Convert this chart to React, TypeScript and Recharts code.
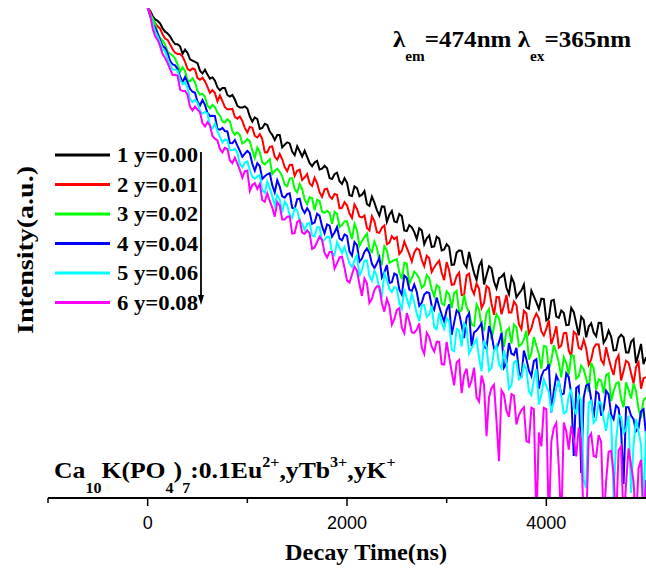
import { LineChart, Line, XAxis, YAxis, Legend } from 'recharts';

// decay time channels (ns), one row per 500 ns
const times = [
  0, 25, 50, 75, 100, 125, 150, 175, 200, 225, 250, 275, 300, 325, 350, 375, 400, 425, 450, 475,
  500, 525, 550, 575, 600, 625, 650, 675, 700, 725, 750, 775, 800, 825, 850, 875, 900, 925, 950, 975,
  1000, 1025, 1050, 1075, 1100, 1125, 1150, 1175, 1200, 1225, 1250, 1275, 1300, 1325, 1350, 1375, 1400, 1425, 1450, 1475,
  1500, 1525, 1550, 1575, 1600, 1625, 1650, 1675, 1700, 1725, 1750, 1775, 1800, 1825, 1850, 1875, 1900, 1925, 1950, 1975,
  2000, 2025, 2050, 2075, 2100, 2125, 2150, 2175, 2200, 2225, 2250, 2275, 2300, 2325, 2350, 2375, 2400, 2425, 2450, 2475,
  2500, 2525, 2550, 2575, 2600, 2625, 2650, 2675, 2700, 2725, 2750, 2775, 2800, 2825, 2850, 2875, 2900, 2925, 2950, 2975,
  3000, 3025, 3050, 3075, 3100, 3125, 3150, 3175, 3200, 3225, 3250, 3275, 3300, 3325, 3350, 3375, 3400, 3425, 3450, 3475,
  3500, 3525, 3550, 3575, 3600, 3625, 3650, 3675, 3700, 3725, 3750, 3775, 3800, 3825, 3850, 3875, 3900, 3925, 3950, 3975,
  4000, 4025, 4050, 4075, 4100, 4125, 4150, 4175, 4200, 4225, 4250, 4275, 4300, 4325, 4350, 4375, 4400, 4425, 4450, 4475,
  4500, 4525, 4550, 4575, 4600, 4625, 4650, 4675, 4700, 4725, 4750, 4775, 4800, 4825, 4850, 4875, 4900, 4925, 4950, 4975,
  5000,
];

// intensity (counts) for y = 0.00
const y000 = [
  10000, 9500, 8610, 8060, 7850, 7480, 6810, 6410, 6190, 5860, 5400, 5080, 5060, 4870, 4220, 4580, 4300, 3810, 3720, 3630,
  3550, 3070, 2920, 3130, 2860, 2650, 2720, 2550, 2250, 2130, 2220, 2220, 1950, 1890, 1950, 1790, 1590, 1540, 1540, 1570,
  1510, 1300, 1180, 1280, 1240, 1030, 1050, 1135, 1110, 981, 921, 836, 917, 917, 727, 766, 800, 784, 672, 629,
  743, 677, 613, 684, 610, 541, 511, 549, 565, 481, 488, 515, 492, 409, 402, 440, 452, 386, 366, 408,
  375, 296, 292, 350, 339, 291, 299, 320, 251, 243, 289, 258, 224, 202, 240, 239, 180, 205, 220, 181,
  178, 208, 200, 153, 151, 169, 162, 148, 130, 159, 153, 118, 132, 139, 112, 113, 136, 131, 105, 107,
  118, 112, 80, 80.3, 101, 105, 104, 82.2, 76.5, 102, 83, 68.6, 60, 78.3, 86, 55.4, 66, 77.9, 75, 58.4,
  51.5, 62.3, 64, 67.6, 52, 46.1, 63.5, 57.2, 43.4, 46.6, 49.6, 55.3, 36, 35.1, 49.3, 44.2, 39.5, 35.0, 42.4, 42.1,
  28.2, 29.2, 40.8, 41.4, 30.3, 29.6, 33.9, 32.5, 25.8, 25.9, 35.6, 32.9, 26.7, 21.3, 30.2, 28.4, 20.5, 25.0, 26.7, 22.4,
  20.9, 26.9, 26.8, 18.5, 20.0, 23.2, 20.8, 16.0, 16.1, 20.3, 21.5, 20.5, 15.4, 15.4, 18.8, 19.8, 12.6, 15.0, 18.1, 12.4,
  14.1,
];

// y = 0.01
const y001 = [
  10000, 9270, 8120, 7480, 7100, 6780, 6080, 5630, 5480, 5040, 4600, 4310, 4220, 4220, 4020, 3630, 3170, 3090, 3210, 3150,
  2680, 2600, 2700, 2520, 2270, 2030, 2140, 2020, 1730, 1930, 1740, 1550, 1490, 1490, 1500, 1290, 1250, 1300, 1200, 1050,
  963, 1070, 1054, 906, 877, 934, 850, 664, 663, 736, 741, 610, 578, 643, 582, 503, 467, 523, 525, 425,
  470, 479, 395, 415, 442, 370, 353, 411, 372, 312, 288, 331, 335, 291, 277, 303, 299, 232, 234, 260,
  245, 210, 193, 249, 229, 198, 195, 202, 160, 153, 200, 182, 148, 146, 161, 168, 118, 121, 137, 130,
  135, 97.9, 104, 124, 110, 97.9, 85, 101, 109, 106, 88, 78.0, 95, 90.6, 70, 76.3, 82, 86.5, 69, 60.1,
  84.5, 72.0, 55, 55.5, 64.8, 69.0, 45.3, 45.7, 65.6, 67.8, 51.3, 46.2, 56.3, 51.1, 35.6, 39.2, 53.8, 51.5, 38.5, 31.3,
  43.6, 43.5, 31.6, 37.3, 45.4, 32.7, 32.7, 40.2, 37.4, 26.2, 23.9, 33.8, 32.1, 22.1, 24.2, 29.0, 32.1, 29.3, 22.9, 21.2,
  24.1, 28.2, 18.0, 20.9, 25.3, 16.9, 17.5, 22.2, 22.3, 16.0, 14.3, 22.8, 21.7, 16.8, 16.4, 19.6, 16.6, 12.2, 13.5, 16.8,
  18.0, 17.9, 13.4, 12.4, 17.0, 13.9, 11.6, 10.1, 13.3, 14.6, 9.1, 10.9, 13.2, 12.7, 10.5, 8.6, 11.7, 12.8, 7.8, 9.5,
  9.7,
];

// y = 0.02
const y002 = [
  10000, 8810, 8270, 7380, 6300, 5690, 5420, 5040, 4400, 4230, 4100, 3870, 3460, 3010, 3290, 3060, 2560, 2520, 2670, 2480,
  2110, 1960, 2000, 1880, 1600, 1510, 1620, 1550, 1400, 1321, 1185, 1160, 1237, 1190, 989, 922, 966, 920, 782, 804,
  854, 821, 688, 596, 727, 665, 547, 528, 554, 583, 441, 467, 488, 461, 423, 361, 351, 405, 409, 331,
  312, 366, 333, 274, 251, 286, 280, 223, 272, 265, 217, 213, 221, 213, 173, 217, 209, 163, 169, 181,
  182, 152, 130, 173, 153, 114, 125, 135, 144, 108, 102, 124, 110, 86.5, 81.9, 114, 105, 83.0, 85.3, 87.4,
  89.0, 69.5, 61.2, 83.2, 82.0, 56.1, 62.3, 70.5, 67.1, 61.8, 52.1, 54.6, 66.2, 62.3, 50.6, 44.1, 54.8, 52.6, 38.7, 37.6,
  48.7, 46.2, 35.5, 47.1, 49.1, 32.9, 34.1, 45.6, 36.5, 32.6, 26.0, 25.4, 38.0, 34.5, 25.0, 23.6, 32.5, 34.9, 19.7, 25.1,
  31.6, 29.3, 23.0, 17.1, 23.1, 24.4, 18.2, 26.1, 24.8, 17.4, 18.0, 19.6, 23.3, 13.5, 15.1, 20.6, 17.6, 14.9, 11.4, 17.4,
  17.2, 11.2, 13.3, 17.7, 15.4, 12.8, 9.65, 14.1, 12.7, 10.1, 14.6, 14.5, 9.4, 9.86, 12.0, 11.2, 9.53, 7.34, 12.7, 11.4,
  7.67, 9.32, 9.09, 7.15, 10.1, 10.4, 6.19, 7.42, 8.59, 8.82, 6.49, 5.51, 8.8, 7.62, 6.48, 8.58, 7.46, 5.32, 4.5, 6.28,
  6.64,
];

// y = 0.04
const y004 = [
  10000, 8600, 7380, 6940, 6190, 5460, 4930, 4700, 4290, 3710, 3470, 3400, 3180, 2760, 2480, 2730, 2480, 2190, 2070, 2030,
  1720, 1600, 1770, 1620, 1390, 1315, 1320, 1310, 1030, 1014, 1050, 989, 982, 791, 787, 838, 752, 682, 609, 647,
  682, 651, 535, 469, 541, 513, 403, 423, 439, 448, 358, 312, 393, 348, 290, 283, 302, 307, 234, 229,
  275, 278, 230, 212, 232, 216, 173, 177, 209, 201, 165, 145, 171, 167, 136, 147, 163, 131, 127, 142,
  138, 103, 95.1, 123, 116, 85.0, 90, 102, 109, 100, 81.5, 75.3, 82.2, 92.0, 63.3, 69.8, 79.8, 57.0, 57.8, 68.0,
  66.3, 50.4, 45.6, 65.4, 62.4, 50.3, 48.9, 55.4, 48.0, 37.0, 39.2, 45.9, 47.9, 47.2, 37.0, 34.3, 43.4, 36.6, 31.4, 27.6,
  34.3, 38.1, 21.4, 27.0, 34.0, 32.3, 25.7, 20.2, 29.7, 32.2, 17.4, 22.5, 23.3, 24.8, 26.7, 17.1, 16.6, 25.3, 21.7, 16.5,
  16.5, 18.7, 22.2, 11.6, 12.6, 18.4, 15.1, 14.7, 16.8, 10.8, 9.6, 16.0, 13.6, 11.0, 9.9, 13.1, 13.6, 7.8, 9.8, 11.0,
  11.2, 12.4, 5.0, 7.5, 10.0, 8.97, 7.0, 7.1, 10.4, 9.68, 7.1, 2.2, 7.9, 8.2, 1.6, 6.6, 8.3, 8.5, 6.4, 4.5,
  7.4, 7.1, 4.7, 5.3, 7.5, 7.0, 4.8, 4.4, 5.7, 5.4, 3.6, 1.3, 5.5, 5.5, 4.7, 4.4, 3.5, 3.7, 5.1, 5.3,
  3.3,
];

// y = 0.06
const y006 = [
  10000, 8980, 7510, 6430, 5870, 5230, 4610, 4430, 3860, 3460, 3150, 3140, 3070, 2590, 2390, 2480, 2220, 1800, 1700, 1780,
  1680, 1440, 1370, 1420, 1380, 1090, 1040, 1140, 990, 887, 798, 844, 832, 693, 690, 709, 659, 533, 501, 548,
  559, 473, 420, 405, 422, 434, 325, 309, 383, 340, 290, 245, 297, 273, 214, 263, 245, 203, 194, 232,
  223, 183, 174, 154, 173, 176, 139, 136, 162, 162, 124, 128, 136, 135, 100, 95.8, 123, 111, 99.7, 112,
  96.2, 82.2, 76.9, 87.6, 95.6, 64.3, 72.5, 86.7, 87.0, 65.0, 59.3, 71.6, 65.1, 49.4, 44.9, 67.8, 60.7, 50.9, 48.1, 52.6,
  51.4, 39.1, 35.1, 51.0, 42.2, 36.7, 46.0, 39.7, 32.0, 27.8, 37.2, 37.6, 30.1, 31.3, 37.0, 24.8, 23.9, 32.5, 26.9, 24.0,
  29.4, 27.7, 16.2, 15.8, 24.0, 23.3, 17.2, 26.7, 24.6, 15.1, 16.8, 18.2, 19.9, 13.9, 10.8, 19.3, 17.2, 10.9, 11.5, 15.8,
  17.6, 12.3, 11.4, 16.1, 12.9, 7.8, 8.3, 12.8, 13.2, 9.3, 9.65, 12.3, 11.3, 7.4, 6.9, 9.3, 11.3, 5.8, 6.96, 9.3,
  8.2, 7.3, 5.03, 6.1, 7.97, 8.9, 6.77, 4.9, 5.04, 6.8, 7.61, 5.5, 4.8, 6.9, 6.23, 1.4, 1.2, 6.0, 6.22, 4.1,
  4.36, 6.1, 5.98, 4.4, 3.54, 4.9, 4.48, 1.0, 2.96, 4.7, 4.59, 3.4, 3.65, 4.7, 1.1, 2.7, 4.42, 3.5, 2.75, 0.9,
  3.53,
];

// y = 0.08
const y008 = [
  10000, 8860, 6770, 5900, 5490, 4880, 4210, 3900, 3550, 3170, 2840, 2850, 2810, 2160, 2100, 2100, 1960, 1560, 1460, 1570,
  1480, 1410, 1150, 1080, 1170, 1100, 903, 858, 829, 705, 662, 722, 708, 570, 541, 599, 539, 476, 411, 465,
  469, 321, 359, 372, 334, 365, 270, 262, 307, 266, 235, 198, 260, 243, 188, 188, 198, 199, 144, 145,
  179, 185, 147, 143, 153, 145, 108, 111, 123, 136, 128, 100, 91.9, 102, 102, 74.6, 82.4, 92.0, 93.1, 75.7,
  59.8, 57.4, 66.7, 77.5, 71.8, 55.5, 44.6, 62.0, 56.7, 39.1, 42.2, 49.9, 53.4, 53.3, 38.7, 33.2, 42.2, 37.0, 26.0, 28.8,
  34.3, 35.4, 24.6, 22.2, 32.3, 27.9, 22.5, 22.3, 23.7, 26.7, 16.8, 15.0, 22.3, 20.6, 17.2, 15.7, 18.9, 18.8, 12.4, 12.3,
  18.8, 14.2, 10.8, 8.3, 12.8, 13.4, 7.19, 10.1, 11.4, 7.98, 9.14, 11.6, 6.63, 6.12, 10.0, 8.4, 3.2, 6.66, 7.9, 8.4,
  4.26, 2.0, 7.57, 6.97, 5.16, 4.59, 7.04, 6.84, 3.99, 4.76, 5.23, 5.52, 2.91, 2.84, 5.47, 5.33, 0.6, 3.43, 2.64, 5.45,
  5.31, 0.6, 2.87, 3.74, 4.1, 1.8, 0.6, 4.14, 3.5, 2.48, 3.88, 3.02, 2.19, 3.75, 2.82, 0.6, 0.6, 3.1, 3.36, 2.2,
  2.16, 3.26, 2.87, 0.6, 1.38, 2.39, 2.43, 1.57, 0.6, 2.45, 2.64, 0.6, 1.31, 2.54, 1.86, 1.37, 0.6, 1.74, 2.05, 0.6,
  1.41,
];

const seriesNames = ['1 y=0.00', '2 y=0.01', '3 y=0.02', '4 y=0.04', '5 y=0.06', '6 y=0.08'];
const seriesValues = [y000, y001, y002, y004, y006, y008];
const COLORS = ['#000000', '#ff0000', '#00ff00', '#0000ff', '#00ffff', '#ff00ff'];

const xTicks = [-1000, 0, 1000, 2000, 3000, 4000];
const xLabeled = [0, 2000, 4000];

const data = times.map((t, i) => {
  const row: Record<string, number> = { t };
  seriesValues.forEach((vals, s) => {
    row[`s${s}`] = vals[i];
  });
  return row;
});

const SERIF = "'Liberation Serif', 'Times New Roman', serif";
const SANS = "'Liberation Sans', Arial, sans-serif";

function TimeTick(props: any) {
  const { x, y, payload } = props;
  const major = xLabeled.includes(payload.value);
  return (
    <g>
      <line x1={x} x2={x} y1={y} y2={y + (major ? 8 : 5)} stroke="#000" strokeWidth={1.5} />
      {major && (
        <text x={x} y={y + 31} textAnchor="middle" fontFamily={SANS} fontSize={18} fill="#000">
          {payload.value}
        </text>
      )}
    </g>
  );
}

function DecayLegend(props: any) {
  const items = props.payload || [];
  return (
    <svg width={170} height={175} style={{ overflow: 'visible' }}>
      {items.map((p: any, i: number) => {
        const y = 15 + i * 29.5;
        return (
          <g key={p.value}>
            <line x1={5} x2={60} y1={y} y2={y} stroke={p.color} strokeWidth={3} />
            <text
              x={67}
              y={y + 7}
              fontFamily={SERIF}
              fontWeight="bold"
              fontSize={20}
              textLength={81}
              lengthAdjust="spacingAndGlyphs"
              fill="#000"
            >
              {p.value}
            </text>
          </g>
        );
      })}
      <line x1={151} x2={151} y1={12} y2={158} stroke="#000" strokeWidth={1.8} />
      <polygon points="148,155 154,155 151,165" fill="#000" />
    </svg>
  );
}

export default function App() {
  return (
    <div style={{ position: 'absolute', left: 0, top: 0, width: 646, height: 568, background: '#fff' }}>
      <LineChart width={646} height={568} data={data} margin={{ top: 8, right: 0, bottom: 0, left: 48 }}>
        <XAxis
          dataKey="t"
          type="number"
          domain={[-1000, 5000]}
          ticks={xTicks}
          interval={0}
          height={70}
          tickSize={0}
          tickMargin={0}
          tickLine={false}
          tick={<TimeTick />}
          axisLine={{ stroke: '#000', strokeWidth: 2 }}
        />
        <XAxis
          xAxisId="top"
          orientation="top"
          type="number"
          domain={[-1000, 5000]}
          height={0}
          tick={false}
          tickLine={false}
          axisLine={{ stroke: '#000', strokeWidth: 2 }}
        />
        <YAxis
          type="number"
          scale="log"
          domain={[1, 10000]}
          allowDataOverflow
          width={0}
          tick={false}
          tickLine={false}
          axisLine={{ stroke: '#000', strokeWidth: 2 }}
        />
        <Legend
          layout="vertical"
          align="center"
          verticalAlign="middle"
          content={DecayLegend}
          wrapperStyle={{ left: 50, top: 140, width: 170, height: 175 }}
        />
        {seriesNames.map((name, s) => (
          <Line
            key={name}
            type="linear"
            dataKey={`s${s}`}
            name={name}
            stroke={COLORS[s]}
            strokeWidth={2}
            dot={false}
            activeDot={false}
            isAnimationActive={false}
          />
        ))}
        <text
          x={366}
          y={560}
          textAnchor="middle"
          fontFamily={SERIF}
          fontWeight="bold"
          fontSize={24}
          textLength={162}
          lengthAdjust="spacingAndGlyphs"
          fill="#000"
        >
          Decay Time(ns)
        </text>
        <text
          transform="translate(33,250) rotate(-90)"
          textAnchor="middle"
          fontFamily={SERIF}
          fontWeight="bold"
          fontSize={24}
          textLength={168}
          lengthAdjust="spacingAndGlyphs"
          fill="#000"
        >
          Intensity(a.u.)
        </text>
        <g transform="translate(393,47) scale(1.09,1)">
          <text x={0} y={0} fontFamily={SERIF} fontWeight="bold" fontSize={23} fill="#000">
            λ<tspan fontSize={14} dy={14}>em</tspan>
            <tspan dy={-14}>=474nm λ</tspan>
            <tspan fontSize={14} dy={14}>ex</tspan>
            <tspan dy={-14}>=365nm</tspan>
          </text>
        </g>
        <g transform="translate(54,478) scale(1.07,1)">
          <text x={0} y={0} fontFamily={SERIF} fontWeight="bold" fontSize={24} fill="#000">
            Ca<tspan fontSize={15} dy={15}>10</tspan>
            <tspan dy={-15}>K(PO</tspan>
            <tspan fontSize={15} dy={15}>4</tspan>
            <tspan dy={-15}>)</tspan>
            <tspan fontSize={15} dy={15}>7</tspan>
            <tspan dy={-15}>:0.1Eu</tspan>
            <tspan fontSize={15} dy={-11}>2+</tspan>
            <tspan dy={11}>,yTb</tspan>
            <tspan fontSize={15} dy={-11}>3+</tspan>
            <tspan dy={11}>,yK</tspan>
            <tspan fontSize={15} dy={-11}>+</tspan>
          </text>
        </g>
      </LineChart>
    </div>
  );
}
